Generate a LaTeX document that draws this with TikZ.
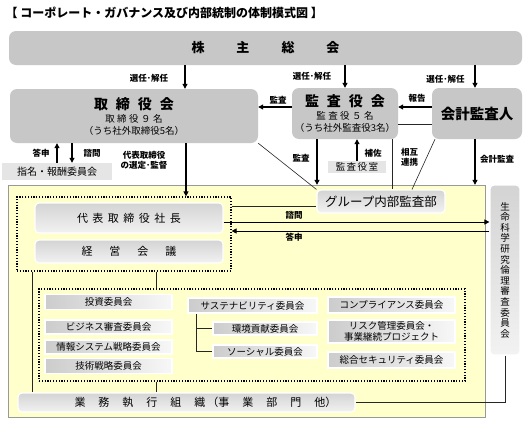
\documentclass[tikz,border=0pt]{standalone}
\usepackage{fontspec}
\setmainfont{Noto Sans CJK JP}
\usetikzlibrary{arrows.meta}

\definecolor{paleyellow}{HTML}{FFFFCC}

% spread the letters of a word: \letsp{gap}{word}
\makeatletter
\newcommand\letsp[2]{\def\letsp@gap{#1}\letsp@x#2\relax}
\def\letsp@x#1#2{#1\ifx\relax#2\expandafter\@gobble\else\hspace{\letsp@gap}\expandafter\@firstofone\fi{\letsp@x#2}}
\makeatother

\begin{document}
\begin{tikzpicture}[x=1pt,y=-1pt,
  box/.style={fill=black!22,rounded corners=7pt,inner sep=0pt,align=center},
  pale/.style={fill=black!10,inner sep=0pt},
  gbox/.style={top color=black!17,bottom color=black!5,draw=white,line width=1.2pt,rounded corners=4pt,inner sep=0pt},
  cbox/.style={left color=black!20,right color=black!3,draw=white,line width=1.5pt,inner sep=0pt,font=\fontsize{9.5}{11}\selectfont},
  arr/.style={line width=1.1pt,-{Triangle[length=5pt,width=5pt]}},
  sarr/.style={line width=0.8pt,-{Triangle[length=5pt,width=5pt]}},
  thin/.style={line width=0.6pt,black!85},
  lbl/.style={font=\fontsize{8.5}{10}\selectfont\bfseries,inner sep=0pt,align=center},
  dotbox/.style={line width=1.2pt,dash pattern=on 1.2pt off 1.6pt,inner sep=0pt}]

\fill[white] (0,0) rectangle (525,421);
\useasboundingbox (0,0) rectangle (525,421);

\node[anchor=west,font=\fontsize{12}{14}\selectfont\bfseries] (title) at (2,13) {【 コーポレート・ガバナンス及び内部統制の体制模式図 】};

% top level
\node[box,minimum width=513,minimum height=34,font=\fontsize{13}{15}\selectfont\bfseries] (sh) at (265.5,48) {\letsp{32pt}{株主総会}};
\node[box,minimum width=248,minimum height=54] (tb) at (134,116)
  {{\fontsize{14}{16}\selectfont\bfseries\letsp{8pt}{取締役会}}\\[1pt]
   {\fontsize{9.5}{11}\selectfont\letsp{2.5pt}{取締役９名}}\\
   {\fontsize{9.5}{11}\selectfont （うち社外取締役5名）}};
\node[box,minimum width=106,minimum height=51] (ka) at (345,113.5)
  {{\fontsize{14}{16}\selectfont\bfseries\letsp{8pt}{監査役会}}\\[1pt]
   {\fontsize{9.5}{11}\selectfont\letsp{2.5pt}{監査役５名}}\\
   {\fontsize{9.5}{11}\selectfont （うち社外監査役3名）}};
\node[box,minimum width=90,minimum height=51,font=\fontsize{14.5}{16}\selectfont\bfseries] (ai) at (477,113.5) {会計監査人};
\node[pale,minimum width=58,minimum height=12,font=\fontsize{9.5}{11}\selectfont] (ks) at (357,167) {\letsp{1.5pt}{監査役室}};
\node[pale,minimum width=110,minimum height=17,font=\fontsize{10}{12}\selectfont] (nm) at (57,171.5) {指名・報酬委員会};

% execution area
\node[fill=paleyellow,draw=black!40,minimum width=477,minimum height=232,inner sep=0pt] (yl) at (246.5,301) {};
\node[dotbox,draw,minimum width=214,minimum height=74] (db1) at (124,234) {};
\node[dotbox,draw,minimum width=426,minimum height=92] (db2) at (252,335) {};

\node[gbox,minimum width=128,minimum height=23,font=\fontsize{12.5}{14}\selectfont] (ga) at (381,201.5) {グループ内部監査部};
\node[gbox,minimum width=30,minimum height=170,align=center,font=\fontsize{9.5}{10.6}\selectfont] (se) at (505,270)
  {生\\命\\科\\学\\研\\究\\倫\\理\\審\\査\\委\\員\\会};
\node[gbox,minimum width=188,minimum height=30,font=\fontsize{11}{13}\selectfont] (ps) at (129,218) {\letsp{4.5pt}{代表取締役社長}};
\node[gbox,minimum width=188,minimum height=23,font=\fontsize{11}{13}\selectfont] (km) at (129,251.5) {\letsp{17pt}{経営会議}};

% committees
\node[cbox,minimum width=127,minimum height=15] (ts) at (108.5,302) {投資委員会};
\node[cbox,minimum width=127,minimum height=14] (bs) at (108.5,327) {ビジネス審査委員会};
\node[cbox,minimum width=127,minimum height=14] (js) at (108.5,347) {情報システム戦略委員会};
\node[cbox,minimum width=127,minimum height=15] (gs) at (108.5,366) {技術戦略委員会};
\node[cbox,minimum width=129,minimum height=15] (sus) at (252.5,305.5) {サステナビリティ委員会};
\node[cbox,minimum width=104,minimum height=13] (kan) at (265,328.5) {環境貢献委員会};
\node[cbox,minimum width=104,minimum height=13] (soc) at (265,351.5) {ソーシャル委員会};
\node[cbox,minimum width=127,minimum height=16] (com) at (391.5,305) {コンプライアンス委員会};
\node[cbox,minimum width=127,minimum height=23,align=center] (risk) at (391.5,331.5) {リスク管理委員会・\\事業継続プロジェクト};
\node[cbox,minimum width=127,minimum height=16] (sec) at (391.5,360) {総合セキュリティ委員会};

\node[gbox,minimum width=337,minimum height=19,font=\fontsize{11}{13}\selectfont] (gyo) at (186.5,402.5)
  {\hspace*{38pt}\letsp{13pt}{業務執行組織}\hspace{2pt}（\letsp{13pt}{事業部門他}）};

% connectors
\draw[arr] (sh.south -| 185,0) -- (tb.north -| 185,0);
\draw[arr] (sh.south -| ka.north) -- (ka.north);
\draw[arr] (sh.south -| 475,0) -- (ai.north -| 475,0);
\draw[arr] (ka.west |- 0,107) -- (tb.east |- 0,107);
\draw[arr] (ai.west |- 0,107) -- (ka.east |- 0,107);
\draw[thin] (ka.east |- 0,124) -- (ai.west |- 0,124);
\draw[thin] (ka.south -| 392,0) -- (ga.north -| 392,0);
\draw[thin] (ai.south -| 435,0) -- (ga.north -| 412,0);
\draw[thin] (tb.south east) -- (ga.north west);
\draw[arr] (ka.south -| 317,0) -- (yl.north -| 317,0);
\draw[arr] (ks.north) -- (ka.south -| ks.north);
\draw[arr] (ai.south -| 475,0) -- (yl.north -| 475,0);
\draw[arr] (tb.south -| 186,0) -- (db1.north -| 186,0);
\draw[arr] (nm.north -| 57,0) -- (tb.south -| 57,0);
\draw[arr] (tb.south -| 72,0) -- (nm.north -| 72,0);
\draw[thin] (db1.east |- 0,206) -- (ga.west |- 0,206);
\draw[sarr] (ps.east |- 0,222) -- (se.west |- 0,222);
\draw[sarr] (se.west |- 0,231) -- (db1.east |- 0,231);
\draw[thin] (db1.south -| 32,0) -- (gyo.north -| 32,0);
\draw[thin] (db1.south -| 156,0) -- (db2.north -| 156,0);
\draw[thin] (db2.south -| 156,0) -- (gyo.north -| 156,0);
\draw[thin] (se.south) |- (gyo.east);
\draw[thin] (sus.south -| 196,0) |- (soc.west);
\draw[thin] (kan.west -| 196,0) -- (kan.west);

% labels
\node[lbl] (l1) at (149,78) {選任･解任};
\node[lbl] (l2) at (312,76) {選任･解任};
\node[lbl] (l3) at (445.5,79) {選任･解任};
\node[lbl] (l4) at (278,100) {監査};
\node[lbl] (l5) at (417,98) {報告};
\node[lbl] (l6) at (301,158) {監査};
\node[lbl] (l7) at (373,153) {補佐};
\node[lbl] (l8) at (409.5,157) {相互\\連携};
\node[lbl] (l9) at (497,159) {会計監査};
\node[lbl] (l10) at (41,153) {答申};
\node[lbl] (l11) at (92,153) {諮問};
\node[lbl] (l12) at (144,160) {代表取締役\\の選定･監督};
\node[lbl] (l13) at (294,215) {諮問};
\node[lbl] (l14) at (294,237) {答申};
\end{tikzpicture}
\end{document}
